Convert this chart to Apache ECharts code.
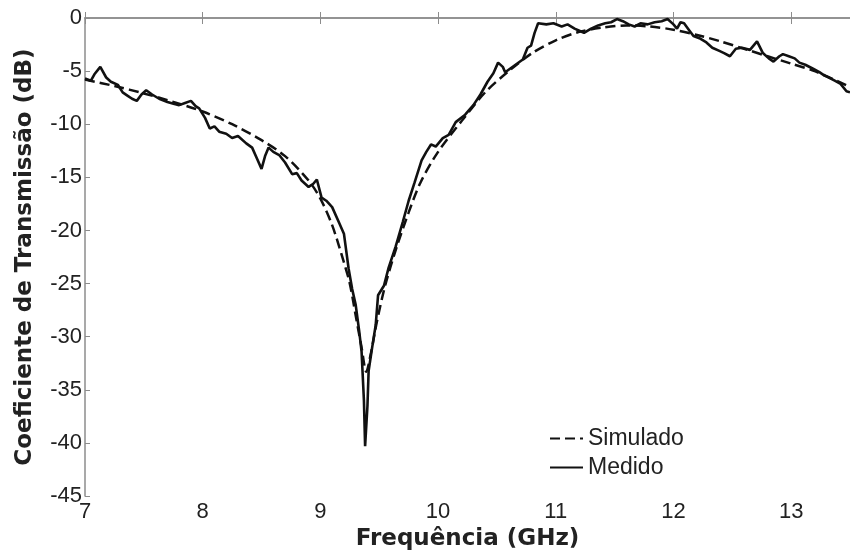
<!DOCTYPE html>
<html>
<head>
<meta charset="utf-8">
<script src="https://cdn.jsdelivr.net/npm/echarts@6/dist/echarts.min.js"></script>
<style>
html, body { margin: 0; padding: 0; background: #fff; }
#chart { width: 850px; height: 556px; }
</style>
</head>
<body>
<div id="chart"></div>
<script>
// valores
var simFreq = [7.0, 7.25, 7.5, 7.75, 8.0, 8.25, 8.5, 8.7, 8.9, 9.0, 9.1, 9.2, 9.25, 9.3, 9.35, 9.39, 9.43, 9.48, 9.55, 9.65, 9.75, 9.85, 10.0, 10.2, 10.4, 10.6, 10.8, 11.0, 11.2, 11.4, 11.6, 11.8, 12.0, 12.2, 12.4, 12.6, 12.8, 13.0, 13.2, 13.5];
var simDb = [-5.8, -6.4, -7.1, -7.9, -8.8, -10.0, -11.5, -13.0, -15.3, -17.0, -19.5, -23.0, -25.0, -28.0, -31.0, -33.3, -31.5, -28.6, -25.2, -21.5, -18.3, -15.5, -12.6, -9.7, -7.0, -5.0, -3.3, -2.1, -1.3, -0.9, -0.7, -0.8, -1.1, -1.6, -2.2, -2.9, -3.6, -4.3, -5.0, -6.5];

var measFreq = [7.00, 7.05, 7.08, 7.13, 7.18, 7.22, 7.28, 7.32, 7.36, 7.40, 7.44, 7.48, 7.52, 7.57, 7.63, 7.70, 7.76, 7.80, 7.85, 7.90, 7.94, 7.97,
    8.02, 8.06, 8.10, 8.14, 8.20, 8.25, 8.30, 8.37, 8.42, 8.46, 8.50, 8.53, 8.56, 8.60, 8.65, 8.70, 8.76, 8.80, 8.84, 8.90, 8.94, 8.97,
    9.01, 9.05, 9.10, 9.16, 9.20, 9.24, 9.27, 9.30, 9.33, 9.35, 9.37, 9.38, 9.40, 9.41, 9.44, 9.47, 9.49, 9.54, 9.58, 9.64, 9.70, 9.75, 9.80, 9.86, 9.90, 9.94, 9.98,
    10.04, 10.09, 10.15, 10.23, 10.30, 10.36, 10.42, 10.47, 10.51, 10.55, 10.57, 10.62, 10.67, 10.72, 10.76, 10.79, 10.82, 10.85, 10.92, 10.98,
    11.05, 11.10, 11.16, 11.20, 11.24, 11.30, 11.36, 11.42, 11.47, 11.52, 11.57, 11.62, 11.67, 11.72, 11.78, 11.84, 11.90, 11.95,
    12.00, 12.03, 12.06, 12.09, 12.13, 12.17, 12.22, 12.28, 12.33, 12.39, 12.43, 12.48, 12.53, 12.58, 12.65, 12.71, 12.76, 12.81, 12.85, 12.90, 12.93, 12.98,
    13.03, 13.07, 13.12, 13.19, 13.24, 13.28, 13.32, 13.37, 13.42, 13.47, 13.50];
var measDb = [-5.7, -5.9, -5.3, -4.6, -5.6, -6.0, -6.3, -7.0, -7.3, -7.6, -7.8, -7.2, -6.8, -7.2, -7.6, -7.9, -8.1, -8.2, -8.0, -7.8, -8.3, -8.5,
    -9.4, -10.4, -10.2, -10.7, -10.9, -11.3, -11.1, -11.8, -12.2, -13.2, -14.2, -13.0, -12.2, -12.6, -12.9, -13.6, -14.7, -14.6, -15.3, -15.9, -15.6, -15.2,
    -16.9, -17.2, -17.8, -19.3, -20.3, -23.6, -25.5, -27.0, -29.5, -31.4, -36.0, -40.3, -36.5, -33.2, -31.0, -28.9, -26.1, -25.2, -23.5, -21.5, -19.2, -17.2, -15.5, -13.4, -12.6, -11.9, -12.1,
    -11.3, -11.0, -9.8, -9.1, -8.2, -7.2, -6.0, -5.2, -4.2, -4.6, -5.1, -4.7, -4.3, -3.9, -2.8, -2.6, -1.4, -0.5, -0.6, -0.5,
    -0.8, -0.6, -1.0, -1.2, -1.4, -1.0, -0.7, -0.5, -0.4, -0.1, -0.3, -0.6, -0.8, -0.5, -0.6, -0.4, -0.3, -0.1,
    -0.6, -1.0, -0.4, -0.5, -1.1, -1.7, -1.9, -2.3, -2.8, -3.1, -3.3, -3.6, -2.9, -2.8, -3.0, -2.2, -3.3, -3.8, -4.1, -3.6, -3.4, -3.6,
    -3.8, -4.2, -4.4, -4.8, -5.1, -5.4, -5.6, -5.9, -6.2, -6.9, -7.0];

function zipData(xs, ys) {
    var out = new Array();
    for (var i = 0; i < xs.length; i++) {
        out.push([xs[i], ys[i]]);
    }
    return out;
}

var axisGray = "#8c8c8c";
var labelFont = "Liberation Sans, Arial, sans-serif";

var chart = echarts.init(document.getElementById("chart"));
var option = {
    backgroundColor: "#fff",
    animation: false,
    grid: { left: 85, right: -4, top: 18, bottom: 52 },
    legend: {
        left: 544,
        top: 422,
        orient: "vertical",
        itemWidth: 33,
        itemHeight: 14,
        itemGap: 6,
        itemStyle: { opacity: 0 },
        textStyle: { fontFamily: labelFont, fontSize: 23, color: "#222" },
        data: ["Simulado", "Medido"]
    },
    xAxis: [{
        type: "value",
        min: 7,
        max: 13.5,
        interval: 1,
        name: "Frequência (GHz)",
        nameLocation: "middle",
        nameGap: 29,
        nameTextStyle: { fontFamily: "DejaVu Sans", fontWeight: "bold", fontSize: 23, color: "#222" },
        axisLine: { lineStyle: { color: axisGray, width: 1.5 } },
        axisTick: { inside: true, length: 6, lineStyle: { color: axisGray } },
        axisLabel: { fontFamily: labelFont, fontSize: 22, color: "#222", margin: 5, showMaxLabel: false },
        splitLine: { show: false }
    }, {
        type: "value",
        position: "top",
        min: 7,
        max: 13.5,
        interval: 1,
        axisLine: { lineStyle: { color: axisGray, width: 1.5 } },
        axisTick: { inside: true, length: 6, lineStyle: { color: axisGray } },
        axisLabel: { show: false },
        splitLine: { show: false }
    }],
    yAxis: {
        type: "value",
        min: -45,
        max: 0,
        interval: 5,
        name: "Coeficiente de Transmissão (dB)",
        nameLocation: "middle",
        nameGap: 48,
        nameTextStyle: { fontFamily: "DejaVu Sans", fontWeight: "bold", fontSize: 23, color: "#222" },
        axisLine: { show: true, lineStyle: { color: axisGray, width: 1.5 } },
        axisTick: { show: true, inside: true, length: 5, lineStyle: { color: axisGray } },
        axisLabel: { fontFamily: labelFont, fontSize: 22, color: "#222", margin: 3 },
        splitLine: { show: false }
    },
    series: [{
        name: "Simulado",
        type: "line",
        symbol: "none",
        smooth: 0.3,
        data: zipData(simFreq, simDb),
        lineStyle: { color: "#111", width: 2.5, type: [10, 5] },
        itemStyle: { color: "#111" },
        z: 2
    }, {
        name: "Medido",
        type: "line",
        symbol: "none",
        data: zipData(measFreq, measDb),
        lineStyle: { color: "#111", width: 2.6 },
        itemStyle: { color: "#111" },
        z: 3
    }]
};
chart.setOption(option);
</script>
</body>
</html>
